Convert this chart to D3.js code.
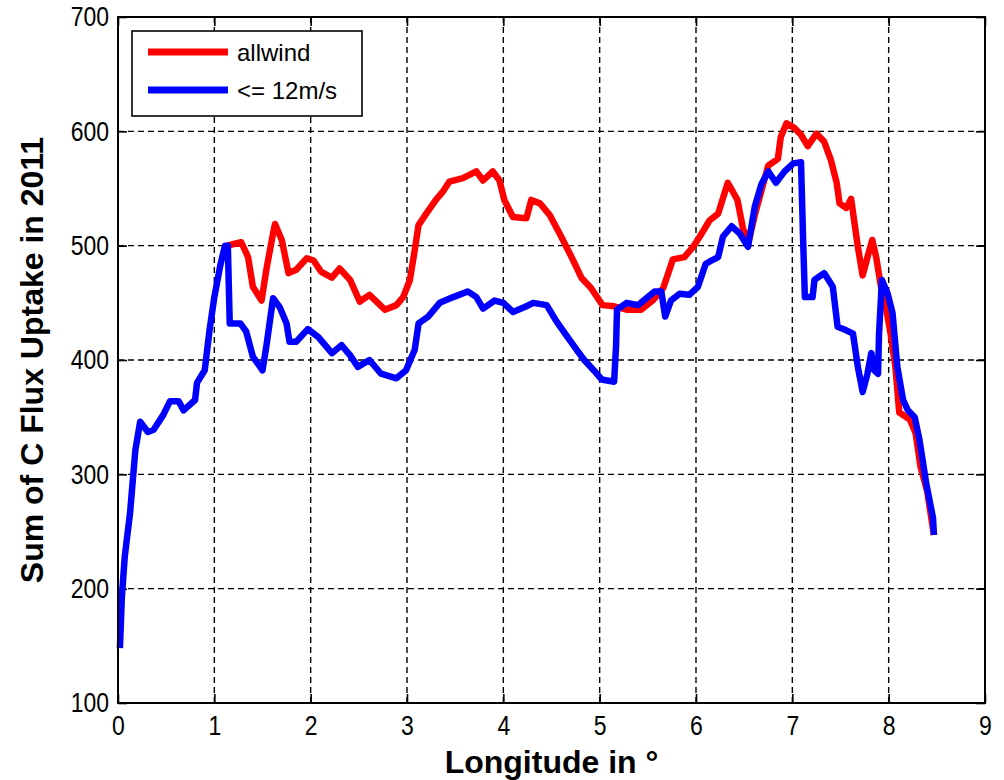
<!DOCTYPE html>
<html>
<head>
<meta charset="utf-8">
<script src="https://cdn.jsdelivr.net/npm/d3@7"></script>
<style>
  body { margin: 0; background: #fff; }
  text { font-family: Arial, "Liberation Sans", sans-serif; }
</style>
</head>
<body>
<div id="chart"></div>
<script>
// Longitude / value pairs
const lonBlue = [0.02, 0.04, 0.07, 0.125, 0.18, 0.23, 0.31, 0.37, 0.47, 0.54, 0.63, 0.68, 0.80, 0.82, 0.90, 0.95,
  1.00, 1.06, 1.11, 1.14, 1.16, 1.27, 1.33, 1.40, 1.50, 1.54, 1.61, 1.68, 1.75, 1.78, 1.85, 1.97,
  2.08, 2.22, 2.32, 2.41, 2.49, 2.61, 2.73, 2.89, 2.99, 3.08, 3.12, 3.22, 3.34, 3.48, 3.63, 3.72,
  3.79, 3.91, 4.00, 4.10, 4.24, 4.31, 4.45, 4.55, 4.65, 4.76, 4.84, 4.95, 5.02, 5.15, 5.17, 5.18,
  5.28, 5.40, 5.50, 5.57, 5.64, 5.68, 5.74, 5.83, 5.93, 6.02, 6.10, 6.16, 6.23, 6.28, 6.37, 6.45,
  6.54, 6.61, 6.68, 6.75, 6.83, 6.92, 7.01, 7.09, 7.11, 7.13, 7.21, 7.23, 7.33, 7.42, 7.47, 7.56,
  7.63, 7.68, 7.73, 7.78, 7.82, 7.85, 7.89, 7.90, 7.93, 7.99, 8.04, 8.09, 8.15, 8.20, 8.27, 8.32,
  8.39, 8.46, 8.47];
const blueVals = [148, 193, 228, 266, 321, 346, 337, 339, 352, 364, 364, 356, 365, 380, 391, 426,
  455, 482, 500, 500, 432, 432, 425, 403, 391, 412, 454, 446, 432, 416, 416, 427,
  420, 406, 413, 404, 394, 400, 388, 384, 391, 409, 432, 438, 450, 455, 460, 455,
  445, 452, 450, 442, 447, 450, 448, 434, 422, 409, 400, 390, 383, 381, 412, 444,
  450, 448, 455, 460, 460, 438, 452, 458, 457, 464, 484, 487, 490, 508, 517, 511,
  499, 534, 554, 565, 555, 565, 572, 573, 511, 455, 455, 470, 476, 464, 429, 426,
  423, 394, 372, 388, 406, 391, 388, 423, 470, 458, 441, 394, 365, 356, 350, 330,
  292, 262, 247];

const lonRed = [1.14, 1.18, 1.28, 1.35, 1.40, 1.49, 1.54, 1.61, 1.63, 1.70, 1.77, 1.85, 1.96, 2.03, 2.11, 2.22,
  2.30, 2.41, 2.51, 2.61, 2.77, 2.89, 2.96, 3.03, 3.08, 3.12, 3.20, 3.30, 3.37, 3.44, 3.58, 3.72,
  3.79, 3.89, 3.96, 4.01, 4.10, 4.24, 4.29, 4.38, 4.48, 4.60, 4.72, 4.81, 4.91, 5.03, 5.15, 5.28,
  5.43, 5.55, 5.66, 5.76, 5.88, 5.97, 6.04, 6.14, 6.23, 6.33, 6.43, 6.49, 6.55, 6.62, 6.75, 6.85,
  6.88, 6.94, 7.02, 7.09, 7.16, 7.25, 7.33, 7.40, 7.46, 7.49, 7.56, 7.61, 7.64, 7.68, 7.73, 7.78,
  7.83, 7.87, 7.92, 7.97, 8.02, 8.07, 8.11, 8.22, 8.28, 8.33, 8.40, 8.47];
const redVals = [500, 501, 503, 490, 464, 452, 479, 511, 519, 505, 476, 479, 489, 487, 477, 472,
  480, 470, 451, 457, 444, 448, 455, 470, 496, 518, 528, 540, 547, 556, 559, 565,
  557, 565, 557, 540, 525, 524, 540, 537, 527, 508, 488, 472, 463, 448, 447, 444,
  444, 452, 463, 488, 490, 499, 508, 522, 528, 555, 540, 514, 505, 530, 570, 576,
  595, 607, 603, 597, 587, 598, 591, 575, 555, 537, 533, 541, 523, 499, 474, 490,
  505, 490, 464, 447, 423, 394, 354, 348, 336, 307, 285, 247];

const xTicks = [0, 1, 2, 3, 4, 5, 6, 7, 8, 9];
const yTicks = [100, 200, 300, 400, 500, 600, 700];
const seriesNames = ["allwind", "<= 12m/s"];
const seriesColors = ["#ff0000", "#0000ff"];

const svgWidth = 1004;
const svgHeight = 780;
const margin = { top: 17, right: 19, bottom: 77, left: 118 };
const width = svgWidth - margin.left - margin.right;
const height = svgHeight - margin.top - margin.bottom;

const svg = d3.select("#chart")
  .append("svg")
  .attr("width", svgWidth)
  .attr("height", svgHeight);

const g = svg.append("g")
  .attr("transform", `translate(${margin.left}, ${margin.top})`);

const x = d3.scaleLinear().domain([0, 9]).range([0, width]);
const y = d3.scaleLinear().domain([100, 700]).range([height, 0]);

// dashed grid
g.append("g").selectAll("line")
  .data(xTicks.slice(1, -1))
  .enter().append("line")
  .attr("x1", d => x(d)).attr("x2", d => x(d))
  .attr("y1", 0).attr("y2", height)
  .attr("stroke", "#000").attr("stroke-width", 1.4)
  .attr("stroke-dasharray", "6,4");

g.append("g").selectAll("line")
  .data(yTicks.slice(1, -1))
  .enter().append("line")
  .attr("x1", 0).attr("x2", width)
  .attr("y1", d => y(d)).attr("y2", d => y(d))
  .attr("stroke", "#000").attr("stroke-width", 1.4)
  .attr("stroke-dasharray", "6,4");

// axes, ticks pointing inward; labels a bit taller than wide like the original
function styleAxis(sel) {
  sel.select(".domain").remove();
  sel.selectAll(".tick line").attr("stroke", "#000").attr("stroke-width", 1.6);
  sel.selectAll("text")
    .attr("fill", "#000")
    .attr("transform", "scale(1, 1.2)")
    .style("font-size", "23px");
}

g.append("g")
  .attr("transform", `translate(0, ${height})`)
  .call(d3.axisBottom(x).tickValues(xTicks).tickFormat(d3.format("d")).tickSize(-9).tickPadding(10))
  .call(styleAxis);

g.append("g")
  .call(d3.axisLeft(y).tickValues(yTicks).tickFormat(d3.format("d")).tickSize(-9).tickPadding(9))
  .call(styleAxis);

g.append("g")
  .call(d3.axisTop(x).tickValues(xTicks).tickFormat("").tickSize(-9))
  .call(styleAxis);

g.append("g")
  .attr("transform", `translate(${width}, 0)`)
  .call(d3.axisRight(y).tickValues(yTicks).tickFormat("").tickSize(-9))
  .call(styleAxis);

// the two curves
const line = d3.line()
  .x(d => x(d[0]))
  .y(d => y(d[1]));

const redData = lonRed.map((d, i) => [d, redVals[i]]);
const blueData = lonBlue.map((d, i) => [d, blueVals[i]]);

[redData, blueData].forEach((data, i) => {
  g.append("path")
    .datum(data)
    .attr("fill", "none")
    .attr("stroke", seriesColors[i])
    .attr("stroke-width", 6.5)
    .attr("stroke-linejoin", "round")
    .attr("d", line);
});

// box
g.append("rect")
  .attr("x", 0).attr("y", 0)
  .attr("width", width).attr("height", height)
  .attr("fill", "none")
  .attr("stroke", "#000")
  .attr("stroke-width", 2);

// legend
const legend = svg.append("g").attr("transform", "translate(132, 31)");
legend.append("rect")
  .attr("width", 230).attr("height", 85)
  .attr("fill", "#fff").attr("stroke", "#000").attr("stroke-width", 1.6);

seriesNames.forEach((name, i) => {
  const ly = 21 + i * 38;
  legend.append("line")
    .attr("x1", 16).attr("x2", 96)
    .attr("y1", ly).attr("y2", ly)
    .attr("stroke", seriesColors[i]).attr("stroke-width", 7);
  legend.append("text")
    .attr("x", 105).attr("y", ly + 9)
    .style("font-size", "24px")
    .text(name);
});

// axis titles
svg.append("text")
  .attr("x", margin.left + width / 2)
  .attr("y", 773)
  .attr("text-anchor", "middle")
  .style("font-size", "32px")
  .style("font-weight", "bold")
  .text("Longitude in °");

svg.append("text")
  .attr("transform", `translate(43, ${margin.top + height / 2}) rotate(-90)`)
  .attr("text-anchor", "middle")
  .style("font-size", "32px")
  .style("font-weight", "bold")
  .text("Sum of C Flux Uptake in 2011");
</script>
</body>
</html>
